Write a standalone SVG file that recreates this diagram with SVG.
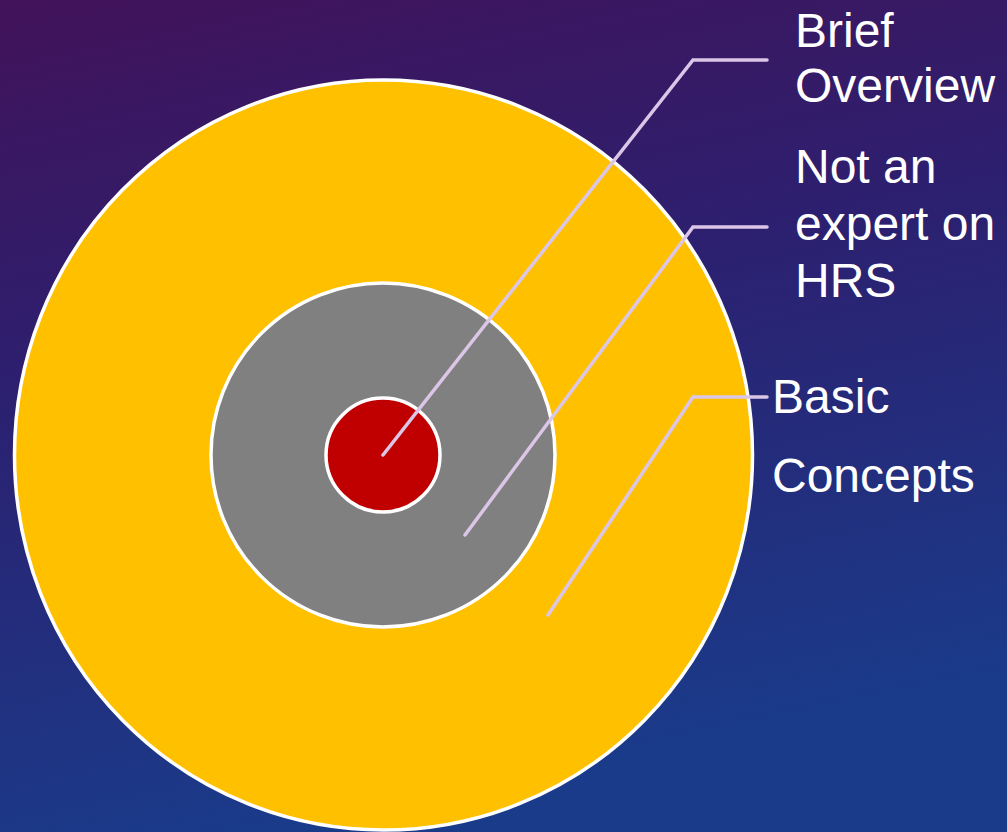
<svg xmlns="http://www.w3.org/2000/svg" width="1007" height="832" viewBox="0 0 1007 832">
  <defs>
    <linearGradient id="bg" x1="0" y1="0" x2="0.25" y2="1">
      <stop offset="0" stop-color="#42135a"/>
      <stop offset="0.45" stop-color="#2c2070"/>
      <stop offset="1" stop-color="#1a3b8a"/>
    </linearGradient>
    <style>
      .ring { stroke: #ffffff; stroke-width: 3.5; }
      .conn { fill: none; stroke: #dcc6e8; stroke-width: 3.5; stroke-linecap: round; stroke-linejoin: miter; }
      .lbl { font-family: "Liberation Sans", Arial, sans-serif; font-size: 48px; fill: #ffffff; }
    </style>
  </defs>
  <rect width="1007" height="832" fill="url(#bg)"/>
  <g id="outer-basic-concepts">
    <ellipse class="ring" cx="383.5" cy="455" rx="369" ry="375" fill="#ffc000"/>
  </g>
  <g id="middle-not-an-expert">
    <circle class="ring" cx="383" cy="455" r="172" fill="#808080"/>
  </g>
  <g id="inner-brief-overview">
    <circle class="ring" cx="383" cy="455" r="57" fill="#c00000"/>
  </g>
  <g id="connectors">
    <polyline class="conn" points="383,455 693,60 767,60"/>
    <polyline class="conn" points="465,535 693,227 767,227"/>
    <polyline class="conn" points="548,615 693,397 767,397"/>
  </g>
  <g id="label-brief-overview">
    <text class="lbl" x="795" y="47">Brief</text>
    <text class="lbl" x="795" y="102">Overview</text>
  </g>
  <g id="label-not-an-expert">
    <text class="lbl" x="795" y="183">Not an</text>
    <text class="lbl" x="795" y="240">expert on</text>
    <text class="lbl" x="795" y="297">HRS</text>
  </g>
  <g id="label-basic-concepts">
    <text class="lbl" x="772" y="413">Basic</text>
    <text class="lbl" x="772" y="492">Concepts</text>
  </g>
</svg>
